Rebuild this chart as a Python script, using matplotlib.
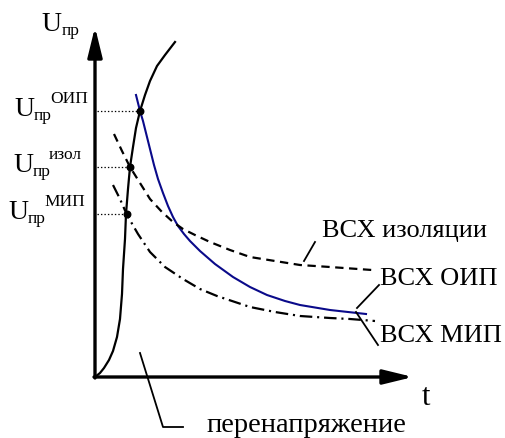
import matplotlib
matplotlib.use("Agg")
import matplotlib.pyplot as plt

plt.rcParams['lines.scale_dashes'] = False
SERIF = 'Liberation Serif'

# curves (t from origin, U up from the t axis)
over_t = [0, 5, 9, 14, 18, 22, 25, 27, 28, 30, 31, 33, 35, 38, 41, 45, 50, 55, 62, 70, 80]
over_u = [0, 4, 9, 17, 26, 40, 58, 83, 108, 138, 163, 188, 210, 230, 249, 266, 282, 296, 311, 322, 335]

oip_t = [41, 43, 45, 48, 51, 55, 59, 63, 68, 73, 78, 83, 89, 95, 105, 120, 138, 155, 172, 190, 205, 235, 262, 271]
oip_u = [282, 274, 266, 256, 244, 228, 212, 198, 184, 171, 160, 151, 143, 136, 126, 113, 100, 90, 82, 76, 72, 67, 64, 63]

iso_t = [19, 27, 35, 45, 55, 67, 78, 88, 100, 115, 135, 155, 180, 205, 235, 277]
iso_u = [243, 226, 210, 194, 178, 165, 155, 148, 142, 135, 127, 120, 116, 112, 110, 107]

mip_t = [18, 25, 32, 43, 55, 70, 88, 105, 122, 140, 155, 180, 205, 235, 255, 280]
mip_u = [192, 178, 162, 143, 125, 110, 98, 88, 81, 75, 70, 65, 61, 59, 58, 56]

# crossing points of the overvoltage curve with each characteristic
cross_t = [45, 35, 32]
cross_u = [266, 210, 163]
cross_sup = ['ОИП', 'изол', 'МИП']

fig = plt.figure(figsize=(5.05, 4.39), dpi=100)
ax = fig.add_axes([0, 0, 1, 1])
ax.set_xlim(-95, 410)
ax.set_ylim(-61, 378)
ax.axis('off')

# axes with arrows
head = '-|>,head_length=0.9,head_width=0.22'
ax.annotate('', xy=(0, 350), xytext=(0, -1),
            arrowprops=dict(arrowstyle=head, lw=2.4, color='k', mutation_scale=20,
                            shrinkA=0, shrinkB=0))
ax.annotate('', xy=(318, 0), xytext=(-1, 0),
            arrowprops=dict(arrowstyle=head, lw=2.4, color='k', mutation_scale=20,
                            shrinkA=0, shrinkB=0))

ax.plot(over_t, over_u, color='k', lw=1.6)
ax.plot(oip_t, oip_u, color='#0a0a8a', lw=1.5)
l1, = ax.plot(iso_t, iso_u, color='k', lw=1.6)
l1.set_dashes([6, 4])
l2, = ax.plot(mip_t, mip_u, color='k', lw=1.6)
l2.set_dashes([9, 3.5, 1.5, 3.5])

for t, u in zip(cross_t, cross_u):
    ax.plot([2, t], [u, u], color='k', lw=0.9, linestyle=(0, (1, 1.5)))
ax.scatter(cross_t, cross_u, s=22, color='k', zorder=5)

# labels on the U axis
fs_big = 19
fs_small = 12.5
ax.text(-54, 347, 'U', fontsize=fs_big + 1, ha='left', va='baseline', fontfamily=SERIF)
ax.text(-33, 343, 'пр', fontsize=fs_small, ha='left', va='baseline', fontfamily=SERIF)
lab_x = [-81, -82, -87]
for x, u, sup in zip(lab_x, cross_u, cross_sup):
    ax.text(x, u - 4, 'U', fontsize=fs_big + 1, ha='left', va='baseline', fontfamily=SERIF)
    ax.text(x + 20, u - 8, 'пр', fontsize=fs_small, ha='left', va='baseline', fontfamily=SERIF)
    ax.text(x + 36, u + 9, sup, fontsize=fs_small, ha='left', va='baseline', fontfamily=SERIF)

ax.text(327, -27, 't', fontsize=fs_big + 3, ha='left', va='baseline', fontfamily=SERIF)

# curve names with leader lines
ax.text(227, 141, 'ВСХ изоляции', fontsize=fs_big, ha='left', va='baseline', fontfamily=SERIF)
ax.plot([209, 220], [116, 135], color='k', lw=1.3)
ax.text(285, 93, 'ВСХ ОИП', fontsize=fs_big, ha='left', va='baseline', fontfamily=SERIF)
ax.plot([262, 284], [69, 92], color='k', lw=1.3)
ax.text(285, 36, 'ВСХ МИП', fontsize=fs_big, ha='left', va='baseline', fontfamily=SERIF)
ax.plot([261, 283], [65, 32], color='k', lw=1.3)
ax.text(111, -54, 'перенапряжение', fontsize=fs_big + 1.5, ha='left', va='baseline', fontfamily=SERIF)
ax.plot([45, 68, 88], [24, -50, -50], color='k', lw=1.3)

fig.savefig('out.png', dpi=100)
